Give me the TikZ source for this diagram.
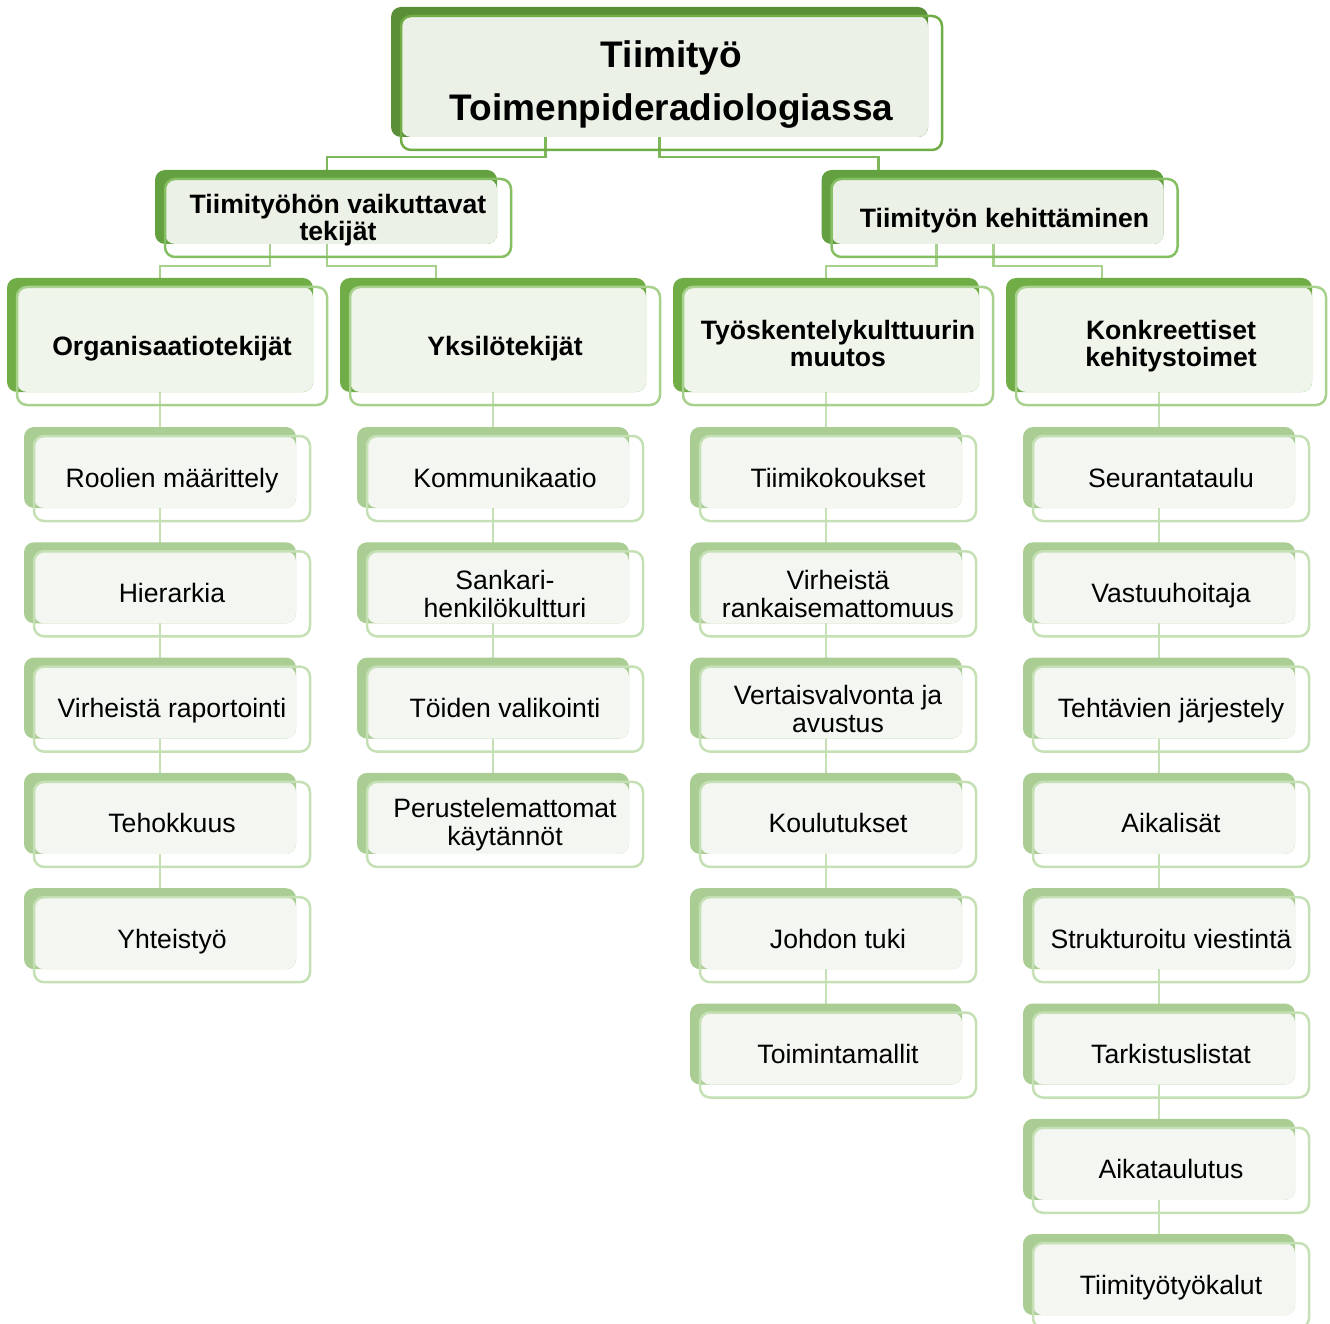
\documentclass[tikz,border=0pt]{standalone}
\usepackage{fontspec}
\setmainfont{Liberation Sans}
\usetikzlibrary{calc}
\pgfdeclarelayer{lines}
\pgfdeclarelayer{backs}
\pgfdeclarelayer{fills}
\pgfsetlayers{lines,backs,fills,main}

\definecolor{titleback}{HTML}{5A8E37}
\definecolor{titleline}{HTML}{70AD47}
\definecolor{titlefill}{HTML}{EBF1E6}
\definecolor{factorback}{HTML}{63A03F}
\definecolor{factorline}{HTML}{86BF63}
\definecolor{groupback}{HTML}{70AD47}
\definecolor{groupline}{HTML}{A9D18E}
\definecolor{groupfill}{HTML}{EFF5EB}
\definecolor{leafback}{HTML}{A9CD93}
\definecolor{leafline}{HTML}{C5E0B4}
\definecolor{leaffill}{HTML}{F3F6F1}
\definecolor{titlelink}{HTML}{7EB65A}
\definecolor{factorlink}{HTML}{A9D18E}

\newcommand{\boxback}[2]{\fill[#2,rounded corners=10pt] ($(#1.north west)+(-10,-9)$) rectangle ($(#1.south east)+(-14,-13)$);}
\newcommand{\boxfill}[2]{\fill[#2,rounded corners=10pt] (#1.north west) rectangle ($(#1.south east)+(-14,-13)$);}

\tikzset{
  every node/.style={align=center, inner sep=0pt, outer sep=0pt},
  titlebox/.style={draw=titleline, line width=2.5pt, rounded corners=10pt,
    minimum width=541pt, minimum height=134pt, font=\fontsize{37}{53}\selectfont\bfseries},
  factorbox/.style={draw=factorline, line width=2.5pt, rounded corners=10pt,
    minimum width=346pt, minimum height=78pt, font=\fontsize{26.6}{27}\selectfont\bfseries},
  groupbox/.style={draw=groupline, line width=2.5pt, rounded corners=10pt,
    minimum width=310pt, minimum height=118pt, font=\fontsize{26.6}{27}\selectfont\bfseries},
  leafbox/.style={draw=leafline, line width=2.5pt, rounded corners=10pt,
    minimum width=276pt, minimum height=85pt, font=\fontsize{26.6}{28}\selectfont,
    text height=20pt, text depth=3pt},
  oneline/.style={text height=22pt, text depth=3pt},
  twolines/.style={text height={}, text depth={}},
}

\begin{document}
\begin{tikzpicture}[x=1pt,y=-1pt]
\useasboundingbox (0,0) rectangle (1330,1324);

% top
\node[titlebox,text depth=4pt] (top) at (671.5,83) {Tiimityö\\Toimenpideradiologiassa};

% two main branches
\node[factorbox,text depth=1pt] (facA) at (338,218) {Tiimityöhön vaikuttavat\\tekijät};
\node[factorbox,oneline] (facB) at (1004.5,218) {Tiimityön kehittäminen};

% groups
\node[groupbox,oneline] (org) at (172,346) {Organisaatiotekijät};
\node[groupbox,oneline] (yks) at (505,346) {Yksilötekijät};
\node[groupbox,text depth=5pt] (tyo) at (838,346) {Työskentelykulttuurin\\muutos};
\node[groupbox] (kon) at (1171,346) {Konkreettiset\\kehitystoimet};

% leaves
\node[leafbox] (org1) at (172,478.5) {Roolien määrittely};
\node[leafbox] (org2) at (172,593.8) {Hierarkia};
\node[leafbox] (org3) at (172,709.1) {Virheistä raportointi};
\node[leafbox] (org4) at (172,824.4) {Tehokkuus};
\node[leafbox] (org5) at (172,939.7) {Yhteistyö};

\node[leafbox] (yks1) at (505,478.5) {Kommunikaatio};
\node[leafbox,twolines] (yks2) at (505,593.8) {Sankari-\\henkilökultturi};
\node[leafbox] (yks3) at (505,709.1) {Töiden valikointi};
\node[leafbox,twolines] (yks4) at (505,824.4) {Perustelemattomat\\käytännöt};

\node[leafbox] (tyo1) at (838,478.5) {Tiimikokoukset};
\node[leafbox,twolines] (tyo2) at (838,593.8) {Virheistä\\rankaisemattomuus};
\node[leafbox,twolines] (tyo3) at (838,709.1) {Vertaisvalvonta ja\\avustus};
\node[leafbox] (tyo4) at (838,824.4) {Koulutukset};
\node[leafbox] (tyo5) at (838,939.7) {Johdon tuki};
\node[leafbox] (tyo6) at (838,1055) {Toimintamallit};

\node[leafbox] (kon1) at (1171,478.5) {Seurantataulu};
\node[leafbox] (kon2) at (1171,593.8) {Vastuuhoitaja};
\node[leafbox] (kon3) at (1171,709.1) {Tehtävien järjestely};
\node[leafbox] (kon4) at (1171,824.4) {Aikalisät};
\node[leafbox] (kon5) at (1171,939.7) {Strukturoitu viestintä};
\node[leafbox] (kon6) at (1171,1055) {Tarkistuslistat};
\node[leafbox] (kon7) at (1171,1170.3) {Aikataulutus};
\node[leafbox] (kon8) at (1171,1285.6) {Tiimityötyökalut};

% shadow blocks and light fills
\begin{pgfonlayer}{backs}
\boxback{top}{titleback}
\boxback{facA}{factorback}
\boxback{facB}{factorback}
\foreach \n in {org,yks,tyo,kon} {\boxback{\n}{groupback}}
\foreach \n in {org1,org2,org3,org4,org5,yks1,yks2,yks3,yks4,tyo1,tyo2,tyo3,tyo4,tyo5,tyo6,kon1,kon2,kon3,kon4,kon5,kon6,kon7,kon8} {\boxback{\n}{leafback}}
\end{pgfonlayer}
\begin{pgfonlayer}{fills}
\boxfill{top}{titlefill}
\boxfill{facA}{titlefill}
\boxfill{facB}{titlefill}
\foreach \n in {org,yks,tyo,kon} {\boxfill{\n}{groupfill}}
\foreach \n in {org1,org2,org3,org4,org5,yks1,yks2,yks3,yks4,tyo1,tyo2,tyo3,tyo4,tyo5,tyo6,kon1,kon2,kon3,kon4,kon5,kon6,kon7,kon8} {\boxfill{\n}{leaffill}}
\end{pgfonlayer}

% connectors
\begin{pgfonlayer}{lines}
\draw[titlelink,line width=2.5pt] ($(top.south)+(-126,-20)$) -- ($(top.south)+(-126,7)$) -| ($(facA.north)+(-11,10)$);
\draw[titlelink,line width=2.5pt] ($(top.south)+(-12,-20)$) -- ($(top.south)+(-12,7)$) -| ($(facB.north)+(-126,10)$);

\draw[factorlink,line width=2.5pt] ($(facA.south)+(-68,-20)$) -- ($(facA.south)+(-68,9)$) -| ($(org.north)+(-12,10)$);
\draw[factorlink,line width=2.5pt] ($(facA.south)+(-11,-20)$) -- ($(facA.south)+(-11,9)$) -| ($(yks.north)+(-69,10)$);
\draw[factorlink,line width=2.5pt] ($(facB.south)+(-68,-20)$) -- ($(facB.south)+(-68,9)$) -| ($(tyo.north)+(-12,10)$);
\draw[factorlink,line width=2.5pt] ($(facB.south)+(-11,-20)$) -- ($(facB.south)+(-11,9)$) -| ($(kon.north)+(-69,10)$);

\draw[leafline,line width=2.5pt] ($(org.center)+(-12,0)$) -- ($(org5.center)+(-12,0)$);
\draw[leafline,line width=2.5pt] ($(yks.center)+(-12,0)$) -- ($(yks4.center)+(-12,0)$);
\draw[leafline,line width=2.5pt] ($(tyo.center)+(-12,0)$) -- ($(tyo6.center)+(-12,0)$);
\draw[leafline,line width=2.5pt] ($(kon.center)+(-12,0)$) -- ($(kon8.center)+(-12,0)$);
\end{pgfonlayer}
\end{tikzpicture}
\end{document}
